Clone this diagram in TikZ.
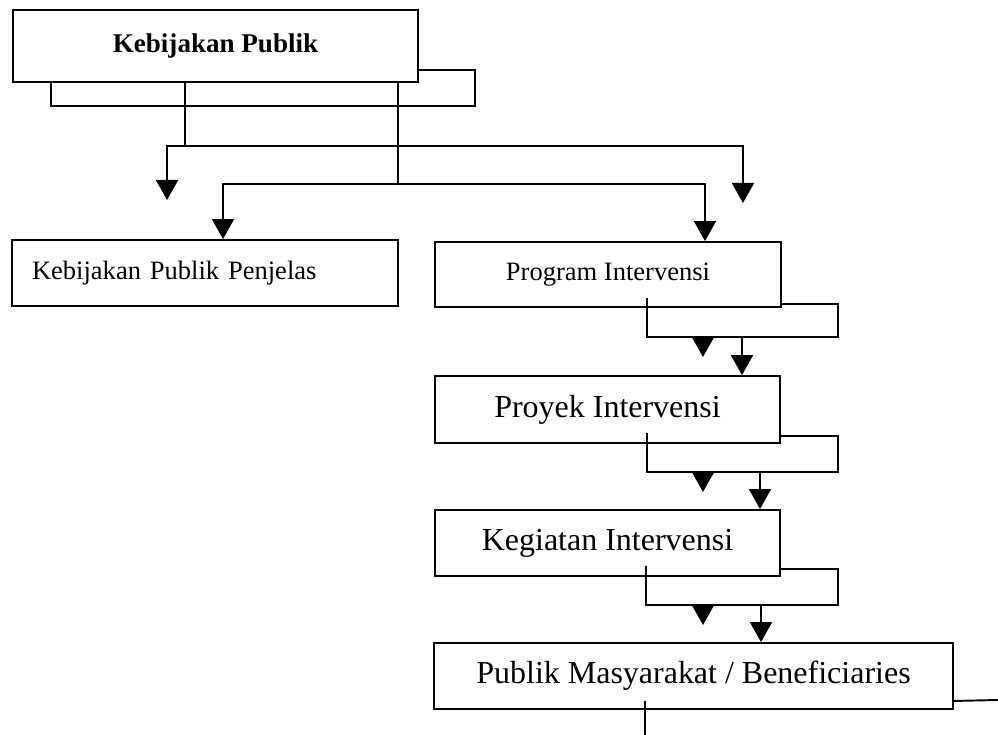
\documentclass[tikz,border=0pt]{standalone}
\usepackage{fontspec}
\setmainfont{Liberation Serif}
\usetikzlibrary{arrows.meta}

\begin{document}
\begin{tikzpicture}[
        every node/.style={align=center},
        line width=1.1pt,
        kotak/.style={draw, inner sep=0pt, minimum height=1.32cm},
        kecil/.style={font=\fontsize{15.1}{18}\selectfont},
        besar/.style={font=\fontsize{18.2}{22}\selectfont},
        panah/.style={-{Triangle[width=0.44cm,length=0.4cm]}},
    ]
    \useasboundingbox (0,0) rectangle (19.96,-14.7);
    \node[kotak, minimum width=8.1cm, minimum height=1.44cm,
        font=\fontsize{15.4}{18}\selectfont\bfseries] (pub) at (4.31,-0.92) {Kebijakan Publik};
    \node[kotak, kecil, minimum width=7.72cm, text width=6.92cm, inner xsep=0.4cm,
        align=left] (penjelas) at (4.10,-5.46) {Kebijakan Publik Penjelas};
    \node[kotak, kecil, minimum width=6.92cm, minimum height=1.30cm] (program) at (12.16,-5.49) {Program Intervensi};
    \node[kotak, besar, minimum width=6.9cm, minimum height=1.34cm] (proyek) at (12.15,-8.19) {Proyek Intervensi};
    \node[kotak, besar, minimum width=6.9cm] (kegiatan) at (12.15,-10.86) {Kegiatan Intervensi};
    \node[kotak, besar, minimum width=10.38cm] (publik) at (13.87,-13.52) {Publik Masyarakat / Beneficiaries};

    \coordinate (kb) at (9.5,-2.12);
    \coordinate (j1) at (3.7,-2.92);
    \coordinate (j2) at (7.96,-3.68);
    \coordinate (e1) at (3.34,-4.0);
    \coordinate (e2) at (14.86,-4.06);
    \draw ([yshift=0.26cm]pub.south east) -| (kb) -| ([xshift=0.78cm]pub.south west);
    \draw (pub.south -| j1) -- (j1);
    \draw[panah] (j1) -| (e1);
    \draw[panah] (j1) -| (e2);
    \draw (pub.south -| j2) -- (j2);
    \draw[panah] (j2) -| ([xshift=0.36cm]penjelas.north);
    \draw[panah] (j2) -| ([xshift=1.94cm]program.north);

    \coordinate (pg1) at (16.76,-6.74);
    \coordinate (pg2) at (12.94,-6.74);
    \coordinate (pg3) at (14.84,-6.74);
    \coordinate (pg4) at (14.06,-6.74);
    \draw ([yshift=0.08cm]program.south east) -| (pg1) -- (pg2) -- ++(0,0.78);
    \draw[panah] (pg3) -- (pg3 |- proyek.north);
    \draw[panah] (pg4) -- ++(0,-0.4);

    \coordinate (py1) at (16.76,-9.44);
    \coordinate (py2) at (12.94,-9.44);
    \coordinate (py3) at (15.2,-9.44);
    \coordinate (py4) at (14.06,-9.44);
    \draw ([yshift=0.16cm]proyek.south east) -| (py1) -- (py2) -- ++(0,0.78);
    \draw[panah] (py3) -- (py3 |- kegiatan.north);
    \draw[panah] (py4) -- ++(0,-0.4);

    \coordinate (kg1) at (16.76,-12.1);
    \coordinate (kg2) at (12.92,-12.1);
    \coordinate (kg3) at (15.22,-12.1);
    \coordinate (kg4) at (14.06,-12.1);
    \draw ([yshift=0.16cm]kegiatan.south east) -| (kg1) -- (kg2) -- ++(0,0.78);
    \draw[panah] (kg3) -- (kg3 |- publik.north);
    \draw[panah] (kg4) -- ++(0,-0.4);

    \coordinate (pk1) at (19.96,-14.0);
    \coordinate (pk2) at (12.9,-14.7);
    \draw ([yshift=0.18cm]publik.south east) -- (pk1);
    \draw (pk2) -- (pk2 |- publik.south) -- ++(0,0.18);
\end{tikzpicture}
\end{document}
